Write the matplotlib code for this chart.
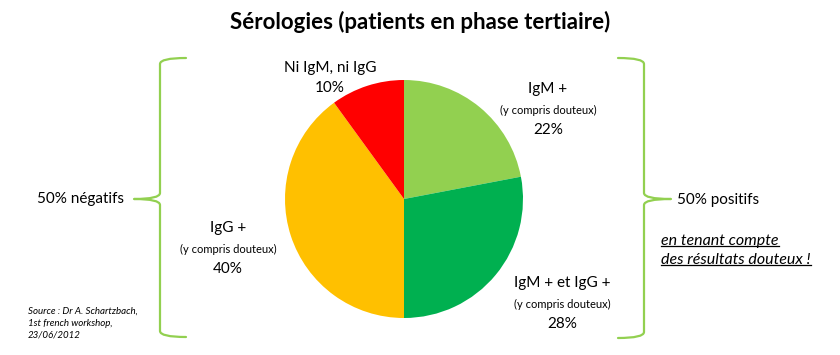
import matplotlib
matplotlib.use("Agg")
import matplotlib.pyplot as plt
from matplotlib.path import Path
from matplotlib.patches import PathPatch

plt.rcParams['font.family'] = ['Lato', 'DejaVu Sans']

categories = ["IgM +", "IgM + et IgG +", "IgG +", "Ni IgM, ni IgG"]
values = [22, 28, 40, 10]
colors = ["#92D050", "#00B050", "#FFC000", "#FF0000"]

W, H = 840, 355
fig = plt.figure(figsize=(8.4, 3.55), dpi=100)
ax = fig.add_axes([0, 0, 1, 1])
ax.set_xlim(0, W)
ax.set_ylim(0, H)
ax.set_aspect('equal')
ax.axis('off')

def Y(y):
    return H - y

cx, cy, r = 404, 199, 119
ax.pie(values, colors=colors, startangle=90, counterclock=False,
       center=(cx, Y(cy)), radius=r, frame=True,
       wedgeprops=dict(linewidth=0))
ax.set_xlim(0, W)
ax.set_ylim(0, H)
ax.axis('off')

fig.text(0.5, 1 - 22 / H, "Sérologies (patients en phase tertiaire)",
         ha='center', va='center', fontsize=16, fontweight='bold')

def lbl(x, y, s, fs=11, **kw):
    return ax.text(x, Y(y), s, ha='center', va='center', fontsize=fs, **kw)

# slice labels
lbl(330, 68, "Ni IgM, ni IgG")
lbl(330, 88, "10%")
lbl(548, 89, "IgM +")
lbl(548, 110, "(y compris douteux)", fs=8)
lbl(548, 130, "22%")
lbl(228, 228, "IgG +")
lbl(228, 249, "(y compris douteux)", fs=8)
lbl(228, 269, "40%")
lbl(562, 283, "IgM + et IgG +")
lbl(562, 304, "(y compris douteux)", fs=8)
lbl(562, 324, "28%")

ax.text(124, Y(199), "50% négatifs", ha='right', va='center', fontsize=11)
ax.text(677, Y(200), "50% positifs", ha='left', va='center', fontsize=11)
t1 = ax.text(661, Y(241), "en tenant compte", ha='left', va='center',
             fontsize=11.5, style='italic')
t2 = ax.text(661, Y(260), "des résultats douteux !", ha='left', va='center',
             fontsize=11.5, style='italic')

for i, s in enumerate(["Source : Dr A. Schartzbach,", "1st french workshop,", "23/06/2012"]):
    ax.text(28, Y(311 + 12 * i), s, ha='left', va='center', fontsize=7, style='italic')

# braces
bc = "#92D050"
def brace(xv, xend, xtip, ytop, ybot, ymid):
    d = 6
    verts = [
        (xend, Y(ytop)),
        (xv, Y(ytop)), (xv, Y(ytop + d)),
        (xv, Y(ymid - d)),
        (xv, Y(ymid)), (xtip, Y(ymid)),
        (xv, Y(ymid)), (xv, Y(ymid + d)),
        (xv, Y(ybot - d)),
        (xv, Y(ybot)), (xend, Y(ybot)),
    ]
    codes = [Path.MOVETO, Path.CURVE3, Path.CURVE3, Path.LINETO,
             Path.CURVE3, Path.CURVE3, Path.CURVE3, Path.CURVE3,
             Path.LINETO, Path.CURVE3, Path.CURVE3]
    ax.add_patch(PathPatch(Path(verts, codes), fill=False, edgecolor=bc, lw=1.6,
                           capstyle='round', joinstyle='round'))

brace(160, 186, 134, 58, 337, 199)
brace(644, 618, 671, 58, 338, 199)

# underline
fig.canvas.draw()
rend = fig.canvas.get_renderer()
inv = ax.transData.inverted()
for t in (t1, t2):
    bb = t.get_window_extent(rend)
    (x0, y0), (x1, y1) = inv.transform([(bb.x0, bb.y0), (bb.x1, bb.y1)])
    ax.plot([x0, x1], [y0 + 2.5, y0 + 2.5], color='black', lw=0.9)

fig.savefig("out.png", dpi=100, facecolor='white')
